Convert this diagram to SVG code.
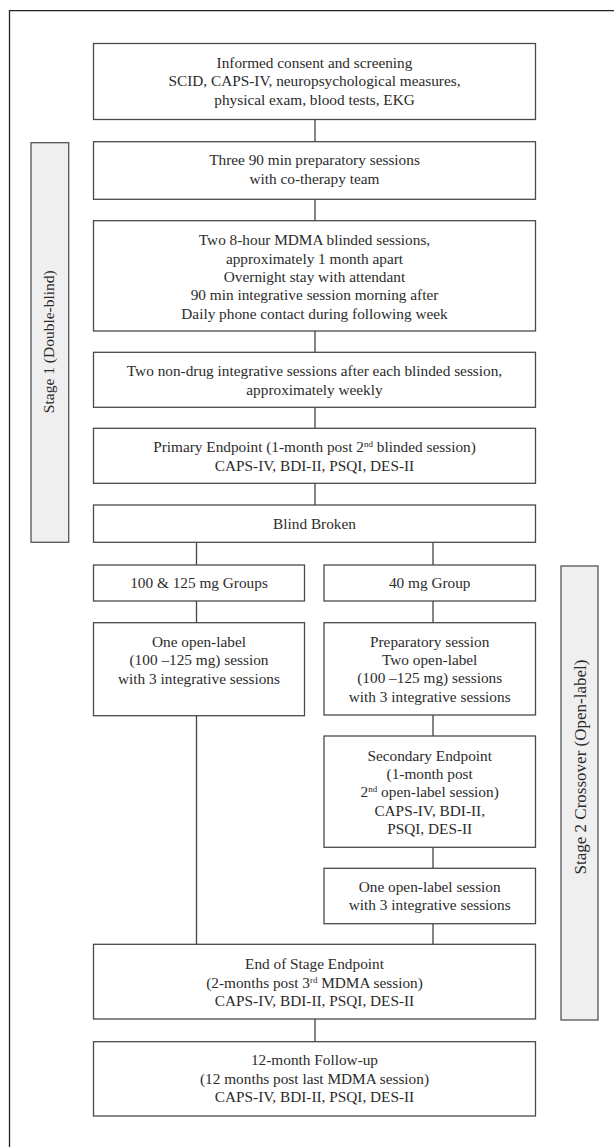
<svg xmlns="http://www.w3.org/2000/svg" width="614" height="1147" viewBox="0 0 614 1147">
<style>
.bg{fill:#ffffff}
.frame{fill:none;stroke:#222;stroke-width:1.3}
.box rect{fill:#ffffff;stroke:#4a4a4a;stroke-width:1.3}
.stage rect{fill:#efefef;stroke:#555;stroke-width:1.3}
text{font-family:"Liberation Serif","Times New Roman",serif;font-size:15.3px;fill:#2b2b2b;text-anchor:middle}
.sup{font-size:9px}
.conn line{stroke:#444;stroke-width:1.3}
</style>
<rect class="bg" x="0" y="0" width="614" height="1147"/>
<path class="frame" d="M9.5 1147 V10.7 H614"/>

<g id="stage1" class="stage">
<rect x="31" y="142.7" width="37.7" height="399.6"/>
<text transform="translate(54,341.7) rotate(-90)" style="font-size:15.5px">Stage 1 (Double-blind)</text>
</g>
<g id="stage2" class="stage">
<rect x="561" y="566" width="37" height="454"/>
<text transform="translate(586,767) rotate(-90)" style="font-size:17px">Stage 2 Crossover (Open-label)</text>
</g>

<g id="connectors" class="conn">
<line x1="315" y1="119.5" x2="315" y2="141.7"/>
<line x1="315" y1="199.3" x2="315" y2="220.7"/>
<line x1="315" y1="331" x2="315" y2="352.3"/>
<line x1="315" y1="407.3" x2="315" y2="428.3"/>
<line x1="315" y1="483.3" x2="315" y2="505"/>
<line x1="196.5" y1="542.3" x2="196.5" y2="565"/>
<line x1="433" y1="542.3" x2="433" y2="565"/>
<line x1="196.5" y1="601" x2="196.5" y2="622.7"/>
<line x1="433" y1="601" x2="433" y2="622.7"/>
<line x1="196.5" y1="715.7" x2="196.5" y2="944.3"/>
<line x1="433" y1="715" x2="433" y2="736"/>
<line x1="433" y1="847.3" x2="433" y2="868.3"/>
<line x1="433" y1="923.7" x2="433" y2="944.3"/>
<line x1="315" y1="1019" x2="315" y2="1041.7"/>
</g>

<g id="n1" class="box">
<rect x="93.5" y="43.5" width="442" height="76"/>
<text x="314.5" y="67.7">Informed consent and screening</text>
<text x="314.5" y="86.3">SCID, CAPS-IV, neuropsychological measures,</text>
<text x="314.5" y="104.7">physical exam, blood tests, EKG</text>
</g>
<g id="n2" class="box">
<rect x="93.5" y="141.7" width="442" height="57.6"/>
<text x="314.5" y="165.2">Three 90 min preparatory sessions</text>
<text x="314.5" y="183.5">with co-therapy team</text>
</g>
<g id="n3" class="box">
<rect x="93.5" y="220.7" width="442" height="110.3"/>
<text x="314.5" y="245.2">Two 8-hour MDMA blinded sessions,</text>
<text x="314.5" y="263.6">approximately 1 month apart</text>
<text x="314.5" y="282">Overnight stay with attendant</text>
<text x="314.5" y="300.4">90 min integrative session morning after</text>
<text x="314.5" y="318.8">Daily phone contact during following week</text>
</g>
<g id="n4" class="box">
<rect x="93.5" y="352.3" width="442" height="55"/>
<text x="314.5" y="376.2">Two non-drug integrative sessions after each blinded session,</text>
<text x="314.5" y="394.5">approximately weekly</text>
</g>
<g id="n5" class="box">
<rect x="93.5" y="428.3" width="442" height="55"/>
<text x="314.5" y="452.2">Primary Endpoint (1-month post 2<tspan class="sup" dy="-5">nd</tspan><tspan dy="5"> blinded session)</tspan></text>
<text x="314.5" y="470.5">CAPS-IV, BDI-II, PSQI, DES-II</text>
</g>
<g id="n6" class="box">
<rect x="93.5" y="505" width="442" height="37.3"/>
<text x="314.5" y="528.8">Blind Broken</text>
</g>
<g id="n7" class="box">
<rect x="93.5" y="565" width="211" height="36"/>
<text x="199" y="587.8">100 &amp; 125 mg Groups</text>
</g>
<g id="n8" class="box">
<rect x="324" y="565" width="211.5" height="36"/>
<text x="429.7" y="587.8">40 mg Group</text>
</g>
<g id="n9" class="box">
<rect x="93.5" y="622.7" width="211" height="93"/>
<text x="199" y="646.8">One open-label</text>
<text x="199" y="665.2">(100 –125 mg) session</text>
<text x="199" y="683.6">with 3 integrative sessions</text>
</g>
<g id="n10" class="box">
<rect x="324" y="622.7" width="211.5" height="92.3"/>
<text x="429.7" y="646.8">Preparatory session</text>
<text x="429.7" y="665.1">Two open-label</text>
<text x="429.7" y="683.4">(100 –125 mg) sessions</text>
<text x="429.7" y="701.7">with 3 integrative sessions</text>
</g>
<g id="n11" class="box">
<rect x="324" y="736" width="211.5" height="111.3"/>
<text x="429.7" y="760.5">Secondary Endpoint</text>
<text x="429.7" y="778.8">(1-month post</text>
<text x="429.7" y="797.2">2<tspan class="sup" dy="-5">nd</tspan><tspan dy="5"> open-label session)</tspan></text>
<text x="429.7" y="815.5">CAPS-IV, BDI-II,</text>
<text x="429.7" y="833.8">PSQI, DES-II</text>
</g>
<g id="n12" class="box">
<rect x="324" y="868.3" width="211.5" height="55.4"/>
<text x="429.7" y="891.8">One open-label session</text>
<text x="429.7" y="909.8">with 3 integrative sessions</text>
</g>
<g id="n13" class="box">
<rect x="93.5" y="944.3" width="442" height="74.7"/>
<text x="314.5" y="968.8">End of Stage Endpoint</text>
<text x="314.5" y="987.8">(2-months post 3<tspan class="sup" dy="-5">rd</tspan><tspan dy="5"> MDMA session)</tspan></text>
<text x="314.5" y="1006.2">CAPS-IV, BDI-II, PSQI, DES-II</text>
</g>
<g id="n14" class="box">
<rect x="93.5" y="1041.7" width="442" height="74.3"/>
<text x="314.5" y="1064.5">12-month Follow-up</text>
<text x="314.5" y="1083.5">(12 months post last MDMA session)</text>
<text x="314.5" y="1101.8">CAPS-IV, BDI-II, PSQI, DES-II</text>
</g>
</svg>
